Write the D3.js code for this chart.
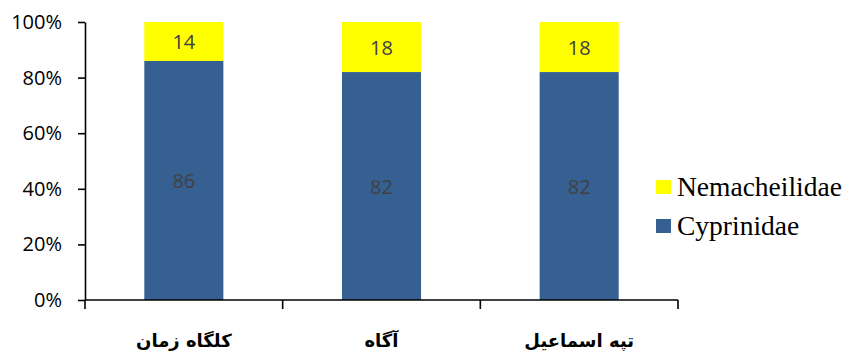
<!DOCTYPE html>
<html>
<head>
<meta charset="utf-8">
<script src="https://cdn.jsdelivr.net/npm/d3@7/dist/d3.min.js"></script>
<style>
  body { margin: 0; background: #fff; }
</style>
</head>
<body>
<script>
    const sites = ["کلگاه زمان", "آگاه", "تپه اسماعیل"],
          cyprinidae = [86, 82, 82],
          nemacheilidae = [14, 18, 18],
          yTicks = [0, 20, 40, 60, 80, 100];

    const series = [
        {name: "Cyprinidae", values: cyprinidae, color: "#366092"},
        {name: "Nemacheilidae", values: nemacheilidae, color: "#ffff00"}
    ];

    const width = 846, height = 351;
    const svg = d3.select("body").append("svg")
        .attr("width", width)
        .attr("height", height);

    const x = d3.scaleBand().domain(sites).range([85, 678]).paddingInner(0.6).paddingOuter(0.3);
    const y = d3.scaleLinear().domain([0, 100]).range([300, 22]);

    // stacked layout from the arrays
    const rows = sites.map((s, i) => ({site: s, Cyprinidae: cyprinidae[i], Nemacheilidae: nemacheilidae[i]}));
    const stack = d3.stack().keys(series.map(d => d.name))(rows);

    svg.selectAll("g.layer").data(stack).join("g")
        .attr("class", "layer")
        .attr("fill", (d, i) => series[i].color)
        .selectAll("rect").data(d => d).join("rect")
        .attr("x", d => x(d.data.site))
        .attr("width", x.bandwidth())
        .attr("y", d => y(d[1]))
        .attr("height", d => y(d[0]) - y(d[1]));

    // value labels
    stack.forEach(layer => {
        svg.append("g").selectAll("text").data(layer).join("text")
            .attr("x", d => x(d.data.site) + x.bandwidth() / 2)
            .attr("y", d => y((d[0] + d[1]) / 2) + 1)
            .attr("dy", "0.35em")
            .attr("text-anchor", "middle")
            .attr("font-family", "'Open Sans', sans-serif")
            .attr("font-size", 20)
            .attr("fill", "#404040")
            .text(d => d[1] - d[0]);
    });

    // y axis
    const yAxis = svg.append("g")
        .attr("transform", "translate(85,0)")
        .call(d3.axisLeft(y).tickValues(yTicks).tickFormat(d => d + "%").tickSize(7).tickSizeOuter(0));
    yAxis.select(".domain").attr("stroke", "#000").attr("stroke-width", 1.6);
    yAxis.selectAll(".tick line").attr("stroke", "#000").attr("stroke-width", 1.6);
    yAxis.selectAll(".tick text")
        .attr("x", -23)
        .attr("font-family", "'Open Sans', sans-serif")
        .attr("font-size", 20)
        .attr("fill", "#000");

    // x axis with category separators
    const g = svg.append("g");
    g.append("line")
        .attr("x1", 85).attr("x2", 678)
        .attr("y1", 300).attr("y2", 300)
        .attr("stroke", "#000").attr("stroke-width", 1.6);
    const seps = [85].concat(sites.map(s => x(s) + x.bandwidth() + x.step() * x.paddingInner() / 2));
    g.selectAll("line.sep").data(seps).join("line")
        .attr("class", "sep")
        .attr("x1", d => Math.min(d, 678))
        .attr("x2", d => Math.min(d, 678))
        .attr("y1", 300).attr("y2", 309)
        .attr("stroke", "#000").attr("stroke-width", 1.6);

    g.selectAll("text").data(sites).join("text")
        .attr("x", d => x(d) + x.bandwidth() / 2)
        .attr("y", 341)
        .attr("dy", "0.35em")
        .attr("text-anchor", "middle")
        .attr("direction", "rtl")
        .attr("font-family", "'DejaVu Sans', sans-serif")
        .attr("font-weight", "bold")
        .attr("font-size", 18)
        .attr("fill", "#000")
        .text(d => d);

    // legend
    const legend = svg.append("g").selectAll("g").data(series.slice().reverse()).join("g")
        .attr("transform", (d, i) => `translate(656,${180 + i * 39})`);
    legend.append("rect")
        .attr("width", 15).attr("height", 14)
        .attr("fill", d => d.color);
    legend.append("text")
        .attr("x", 21).attr("y", 16)
        .attr("font-family", "'Liberation Serif', serif")
        .attr("font-size", 27.5)
        .attr("fill", "#000")
        .text(d => d.name);
</script>
</body>
</html>
